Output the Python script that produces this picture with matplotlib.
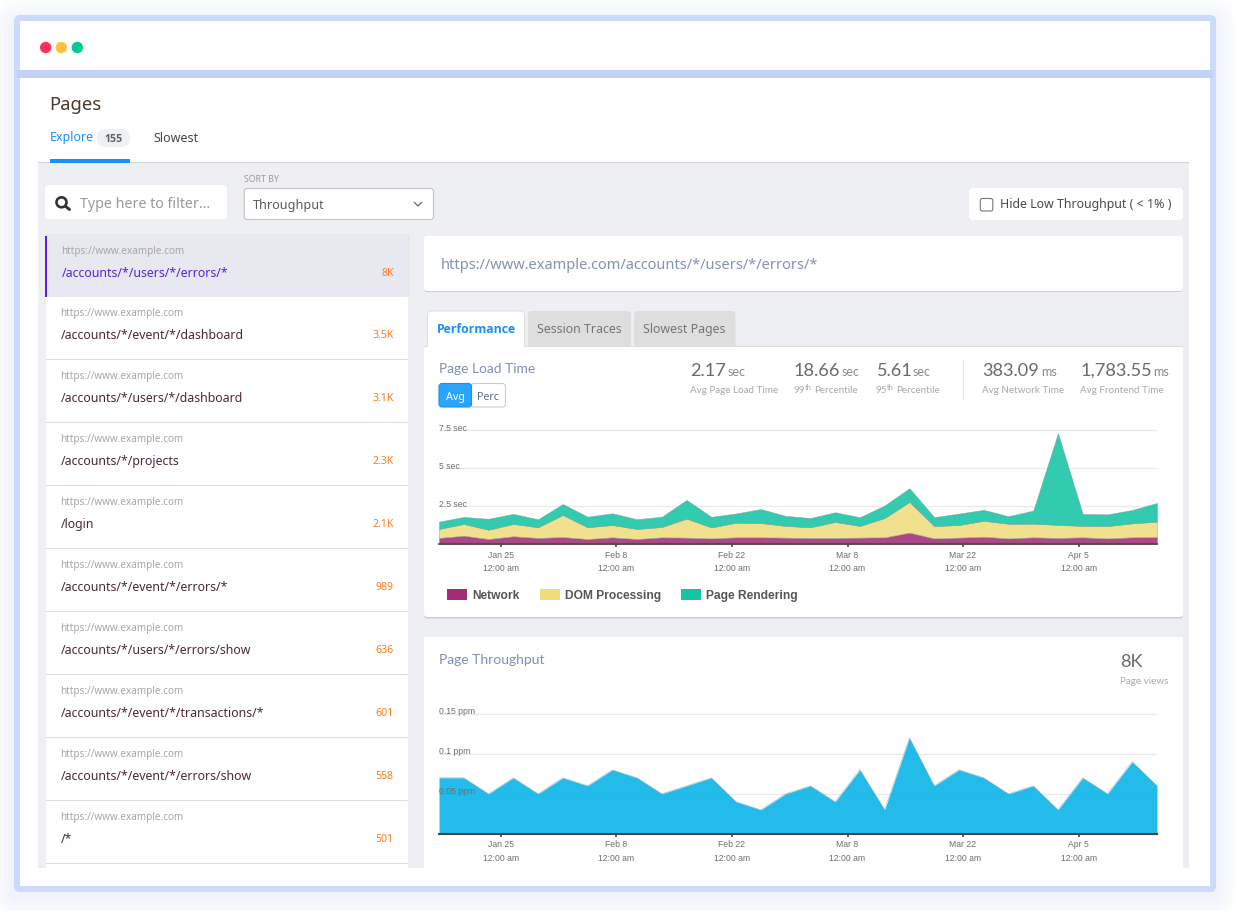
import matplotlib
matplotlib.use("Agg")
import matplotlib.pyplot as plt
from matplotlib.patches import FancyBboxPatch, Rectangle, Circle, Patch
from matplotlib.transforms import ScaledTranslation
import pandas as pd

W, H = 1236, 911
UI = "Noto Sans"
UI_BOLD = "Open Sans"
LATO = "Lato"
ARIAL = "Liberation Sans"

# --- chart data ---
START = "2019-01-17 12:00"
network = [.42, .57, .35, .53, .42, .48, .35, .46, .35, .46, .44, .39, .46, .46, .44,
           .42, .42, .44, .46, .77, .39, .44, .50, .39, .46, .42, .46, .39, .46, .48]
dom = [.59, .77, .61, .81, .70, 1.45, .77, .81, .66, .68, 1.25, .72, .96, .94, .77,
       .70, 1.05, .77, 1.27, 2.02, .81, .83, 1.05, .96, .90, .86, .75, .81, .92, 1.01]
render = [.48, .46, .72, .66, .53, .72, .70, .77, .64, .68, 1.23, .70, .61, .92, .66,
          .61, .64, .57, .83, .90, .59, .75, .72, .50, .86, 6.03, .79, .77, .88, 1.23]
throughput = [.07, .07, .05, .07, .05, .07, .06, .08, .07, .05, .06, .07, .04, .03, .05,
              .06, .04, .08, .03, .12, .06, .08, .07, .05, .06, .03, .07, .05, .09, .06]
tick_dates = ["2019-01-25", "2019-02-08", "2019-02-22", "2019-03-08", "2019-03-22", "2019-04-05"]
tick_labels = ["Jan 25\n12:00 am", "Feb 8\n12:00 am", "Feb 22\n12:00 am",
               "Mar 8\n12:00 am", "Mar 22\n12:00 am", "Apr 5\n12:00 am"]
load_ticks = [2.5, 5, 7.5]
load_tick_labels = ["2.5 sec", "5 sec", "7.5 sec"]
tp_ticks = [.05, .1, .15]
tp_tick_labels = ["0.05 ppm", "0.1 ppm", "0.15 ppm"]
series_names = ["Network", "DOM Processing", "Page Rendering"]

# --- page list ---
page_paths = ["/accounts/*/users/*/errors/*", "/accounts/*/event/*/dashboard",
              "/accounts/*/users/*/dashboard", "/accounts/*/projects", "/login",
              "/accounts/*/event/*/errors/*", "/accounts/*/users/*/errors/show",
              "/accounts/*/event/*/transactions/*", "/accounts/*/event/*/errors/show", "/*"]
page_counts = ["8K", "3.5K", "3.1K", "2.3K", "2.1K", "989", "636", "601", "558", "501"]

fig = plt.figure(figsize=(W / 100, H / 100), dpi=100, facecolor="white")
ui = fig.add_axes([0, 0, 1, 1], zorder=0)
ui.set_xlim(0, W)
ui.set_ylim(H, 0)
ui.axis("off")


def box(x0, y0, x1, y1, color, r=0, ec="none", lw=0, alpha=None, z=1):
    if r:
        p = FancyBboxPatch((x0 + r, y0 + r), x1 - x0 - 2 * r, y1 - y0 - 2 * r,
                           boxstyle=f"round,pad={r},rounding_size={r}",
                           fc=color, ec=ec, lw=lw, alpha=alpha, zorder=z)
    else:
        p = Rectangle((x0, y0), x1 - x0, y1 - y0, fc=color, ec=ec, lw=lw, alpha=alpha, zorder=z)
    ui.add_patch(p)
    return p


def txt(x, y, s, px, color, family=UI, weight="normal", ha="left", z=5):
    ui.text(x, y, s, fontsize=px * 0.72, color=color, family=family, weight=weight,
            ha=ha, va="baseline", zorder=z)


# frame with soft shadow
for i in range(12, 0, -1):
    d = i * 1.8
    box(14 - d, 15 - d + 6, 1216 + d, 892 + d + 6, "#cbdafd", r=6 + d, alpha=0.018, z=0.5)
box(14, 15, 1216, 892, "#cbdafd", r=6, z=1)
box(20, 21, 1210, 886, "white", z=1.1)
box(17, 70, 1213, 77.5, "#c2d2f7", z=1.2)
for cx, c in zip((45.7, 61.3, 77.3), ("#ff2d62", "#ffc13b", "#00c896")):
    ui.add_patch(Circle((cx, 47.5), 5.7, fc=c, ec="none", zorder=2))

# header
txt(49.5, 110, "Pages", 18.5, "#4a3b2c")
txt(50, 141.5, "Explore", 12.5, "#1890ff")
box(97, 129, 130, 147, "#eef1f4", r=9, z=2)
txt(113.5, 142.3, "155", 10.5, "#5a6068", family=UI_BOLD, weight="bold", ha="center")
txt(153.5, 142, "Slowest", 12.5, "#444444")
box(38, 163, 1189, 868, "#eeeff3", z=1.3)
box(38, 162, 1189, 163.2, "#d5d5d5", z=1.4)
box(50, 159, 130, 162.5, "#1890ff", z=1.5)

# filter controls
box(45, 185, 227, 219, "white", r=4, z=2)
ui.add_patch(Circle((61.5, 202.3), 5, fc="none", ec="#333333", lw=1.9, zorder=3))
ui.plot([65.5, 69.5], [206.3, 209.5], color="#333333", lw=2.1, zorder=3, solid_capstyle="round")
txt(80, 208, "Type here to filter...", 14.2, "#9a9a9a")
txt(244, 182.3, "SORT BY", 8.8, "#9c9c9c")
box(244.3, 188.5, 433.5, 219.5, "white", r=3, ec="#c4c4c4", lw=0.8, z=2)
txt(253.3, 209.3, "Throughput", 12.6, "#5a5a5a")
ui.plot([414.5, 418, 421.5], [202.5, 206, 202.5], color="#666666", lw=0.9, zorder=3)
box(969, 188, 1183, 220, "white", r=4, z=2)
box(980.3, 198.5, 992.8, 211, "white", r=2, ec="#777777", lw=0.8, z=3)
txt(1000.3, 208.3, "Hide Low Throughput ( < 1% )", 12.4, "#4a4a4a")

# page list
for i, (path, count) in enumerate(zip(page_paths, page_counts)):
    top = 236 if i == 0 else 297 + (i - 1) * 63
    if i == 0:
        for k in range(3):
            box(45, 236 - k, 408 + k, 297, "#d8dae3", alpha=0.2, z=1.6)
        box(45, 236, 408, 297, "#e8e9f0", z=2)
        box(45, 236, 47, 297, "#5a1fe0", z=2.2)
        txt(61.5, 254, "https://www.example.com", 9.9, "#a6a6ac")
        txt(61.5, 277, path, 12.3, "#5a1fe0")
        txt(393.5, 276.3, count, 10.5, "#ff7f2a", ha="right")
    else:
        box(46, top, 408, top + 62.5, "white", z=2)
        box(46, top + 61.5, 408, top + 63, "#dcdde2", z=2.1)
        ui.plot([46, 408], [top + 0.4, top + 0.4], color="white", lw=0.8, ls=(0, (2, 1)), zorder=2.2)
        txt(60.5, top + 19, "https://www.example.com", 9.9, "#a6a6ac")
        txt(60.5, top + 42, path, 12.3, "#4c2a2e")
        txt(393.5, top + 41, count, 10.5, "#ff7a1a", ha="right")
box(46, 864, 408, 868, "white", z=2)

# url panel
box(424, 237.5, 1183, 292, "#c9cfe0", r=3, z=1.6)
box(424, 236, 1183, 291, "white", r=3, z=2)
txt(440.3, 269, "https://www.example.com/accounts/*/users/*/errors/*", 14.6, "#8492b4")

# tabs
box(427.5, 311, 524.5, 350, "white", r=4, ec="#dddddd", lw=0.7, z=2)
box(528, 311, 631, 350, "#dedede", r=4, z=2)
box(634, 311, 735.5, 350, "#dedede", r=4, z=2)
txt(436.7, 333.3, "Performance", 12.3, "#1890ff", family=UI_BOLD, weight="bold")
txt(537.3, 333.3, "Session Traces", 12.4, "#757575")
txt(643.3, 333.3, "Slowest Pages", 12.4, "#757575")

# cards
box(424, 346, 1183, 618.5, "#c9cfe0", r=3, z=2.2)
box(424, 346, 1183, 617, "white", r=3, z=2.3)
box(424, 345.5, 1183, 346.5, "#dddddd", z=2.3)
box(428, 345, 524, 348, "white", z=2.4)
box(424, 637, 1183, 868, "white", z=2.3)

TITLE = "#7f8fb5"
txt(439.3, 373, "Page Load Time", 13.7, TITLE, LATO, z=5)
txt(439.3, 664, "Page Throughput", 13.9, TITLE, LATO, z=5)

box(439, 383.5, 471.5, 407, "#2aa5fb", r=3, ec="#1890ff", lw=0.8, z=3)
box(471, 383.5, 505.5, 407, "white", r=3, ec="#c5cfe0", lw=0.8, z=2.9)
txt(455, 400, "Avg", 10.7, "white", ha="center")
txt(488.3, 400, "Perc", 10.7, "#5b6b85", ha="center")

NUM = "#6a6a6a"
LAB = "#a9a9a9"
LAB_PX = 9.9


def stat(x, xunit, num, unit):
    txt(x, 376, num, 18.1, NUM, LATO)
    txt(xunit, 376, unit, 12.5, "#8a8a8a", LATO)


stat(690, 727.5, "2.17", "sec")
stat(794, 841.7, "18.66", "sec")
stat(876, 913, "5.61", "sec")
stat(982, 1041, "383.09", "ms")
stat(1081, 1153, "1,783.55", "ms")
txt(690, 393.3, "Avg Page Load Time", LAB_PX, LAB, LATO)
txt(794, 393.3, "99", LAB_PX, LAB, LATO)
txt(804.5, 389.5, "th", 7.5, LAB, LATO)
txt(814, 393.3, "Percentile", LAB_PX, LAB, LATO)
txt(876, 393.3, "95", LAB_PX, LAB, LATO)
txt(886.5, 389.5, "th", 7.5, LAB, LATO)
txt(896.5, 393.3, "Percentile", LAB_PX, LAB, LATO)
txt(982, 393.3, "Avg Network Time", LAB_PX, LAB, LATO)
txt(1080.3, 393.3, "Avg Frontend Time", LAB_PX, LAB, LATO)
box(963.2, 360, 964, 400, "#e6e6e6", z=3)
txt(1120, 667.3, "8K", 18.1, NUM, LATO)
txt(1120, 684, "Page views", LAB_PX, LAB, LATO)

# --- charts ---
dates = pd.date_range(START, periods=len(network), freq="3D").to_pydatetime()
ticks = pd.to_datetime(tick_dates).to_pydatetime()


def chart_axes(left, right, top, bottom, ymax, yticks, ylabels, label_shift_px, base_alpha):
    ax = fig.add_axes([left / W, 1 - bottom / H, (right - left) / W, (bottom - top) / H], zorder=5)
    ax.patch.set_alpha(0)
    ax.set_xlim(dates[0], dates[-1])
    ax.set_ylim(0, ymax)
    for s in ("top", "left", "right"):
        ax.spines[s].set_visible(False)
    ax.spines["bottom"].set_color("#444444")
    ax.spines["bottom"].set_linewidth(1.5)
    ax.spines["bottom"].set_alpha(base_alpha)
    ax.spines["bottom"].set_zorder(3)
    ax.hlines(yticks, dates[0], dates[-1], color="#e9e9e9", lw=0.9, zorder=0)
    ax.set_xticks(ticks)
    ax.set_xticklabels(tick_labels, fontsize=6.2, color="#6e6e6e", family=ARIAL, linespacing=1.6)
    ax.tick_params(axis="x", length=2, width=1.2, color="#444444", pad=2.7)
    ax.set_yticks(yticks)
    ax.set_yticklabels(ylabels, fontsize=6.2, color="#6e6e6e", family=ARIAL)
    ax.tick_params(axis="y", length=0, pad=0)
    off = ScaledTranslation(0, label_shift_px / 100, fig.dpi_scale_trans)
    for lab in ax.get_yticklabels():
        lab.set_ha("left")
        lab.set_transform(lab.get_transform() + off)
    return ax


ax1 = chart_axes(439, 1157, 425, 544.3, 119.3 / 15.2, load_ticks, load_tick_labels, 3.2, 0.75)
ax1.stackplot(dates, network, dom, render, colors=["#a22c76", "#f0dc7c", "#14c4a4"],
              alpha=0.87, edgecolor="#8a9a96", linewidth=0.35, zorder=1)
handles = [Patch(fc=c, ec="none") for c in ("#a22c76", "#f0dc7c", "#14c4a4")]
ax1.legend(handles, series_names, ncol=3, frameon=False, loc="upper left",
           bbox_to_anchor=(447 / W, 1 - 589.4 / H), bbox_transform=fig.transFigure,
           prop={"family": ARIAL, "weight": "bold", "size": 12 * 0.72},
           labelcolor="#555555", handlelength=20 / 12, handleheight=1.0,
           handletextpad=5 / 12, columnspacing=20.2 / 12, borderpad=0, borderaxespad=0)

ax2 = chart_axes(439, 1157, 700, 833.8, 133.8 / 800, tp_ticks, tp_tick_labels, 3.2, 1.0)
ax2.fill_between(dates, 0, throughput, color="#10b6e8", alpha=0.92, lw=0, zorder=1)
ax2.plot(dates, throughput, color="#9aa9ad", lw=0.35, zorder=1.1)

fig.savefig("out.png", dpi=100)
